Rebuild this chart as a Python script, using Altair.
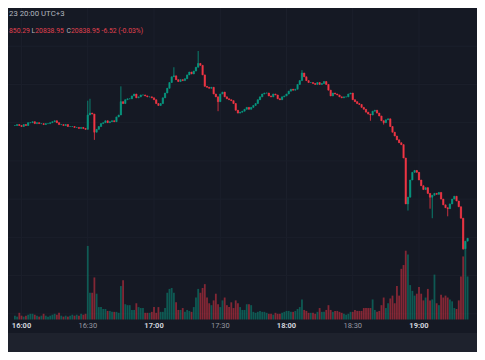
import altair as alt
import pandas as pd

# ---- data (1-minute candles, minute 0 = 16:00) ----
minutes = list(range(-3, 203))
first_open = 20937
close = [
    20937, 20938, 20937, 20936, 20938, 20937, 20940, 20940, 20941, 20939,
    20940, 20939, 20939, 20938, 20939, 20939, 20940, 20941, 20942, 20940,
    20938, 20938, 20937, 20938, 20936, 20936, 20936, 20935, 20935, 20934,
    20935, 20934, 20933, 20948, 20950, 20949, 20930, 20933, 20936, 20939,
    20940, 20942, 20940, 20941, 20942, 20941, 20946, 20948, 20962, 20960,
    20964, 20965, 20965, 20968, 20970, 20966, 20967, 20969, 20969, 20968,
    20967, 20967, 20966, 20964, 20960, 20958, 20960, 20966, 20971, 20976,
    20982, 20988, 20989, 20985, 20983, 20985, 20984, 20986, 20990, 20993,
    20991, 20994, 20998, 21002, 21000, 20990, 20978, 20977, 20976, 20977,
    20970, 20967, 20962, 20970, 20972, 20967, 20965, 20964, 20963, 20960,
    20953, 20950, 20951, 20952, 20954, 20956, 20954, 20956, 20958, 20960,
    20964, 20967, 20970, 20971, 20971, 20968, 20967, 20970, 20969, 20965,
    20964, 20967, 20968, 20970, 20973, 20975, 20974, 20975, 20980, 20984,
    20992, 20988, 20984, 20982, 20982, 20981, 20980, 20982, 20980, 20981,
    20983, 20980, 20974, 20968, 20971, 20970, 20969, 20967, 20966, 20967,
    20967, 20970, 20971, 20964, 20962, 20960, 20959, 20956, 20954, 20951,
    20949, 20948, 20952, 20953, 20950, 20947, 20942, 20940, 20943, 20944,
    20936, 20930, 20926, 20922, 20919, 20917, 20903, 20855, 20862, 20880,
    20888, 20890, 20888, 20880, 20874, 20870, 20872, 20866, 20862, 20864,
    20866, 20865, 20867, 20860, 20854, 20851, 20850, 20855, 20860, 20863,
    20858, 20852, 20840, 20808, 20816, 20819,
]
volume = [
    40, 30, 70, 40, 30, 40, 50, 60, 60, 50,
    40, 30, 40, 60, 40, 30, 40, 50, 60, 50,
    70, 40, 30, 40, 30, 40, 50, 40, 50, 40,
    60, 50, 60, 770, 280, 280, 440, 270, 130, 130,
    110, 110, 90, 90, 80, 80, 80, 70, 350, 410,
    160, 150, 150, 100, 100, 170, 130, 120, 120, 70,
    70, 70, 80, 130, 70, 130, 80, 80, 120, 280,
    320, 330, 280, 180, 100, 100, 120, 80, 100, 90,
    80, 130, 230, 320, 280, 330, 370, 230, 170, 150,
    200, 270, 160, 130, 200, 230, 150, 130, 180, 120,
    200, 170, 130, 100, 100, 160, 160, 150, 80, 70,
    80, 90, 80, 80, 70, 60, 60, 50, 70, 60,
    60, 70, 80, 90, 90, 80, 80, 90, 110, 130,
    210, 100, 90, 70, 70, 70, 60, 80, 120, 80,
    80, 100, 150, 100, 80, 90, 90, 80, 70, 60,
    50, 60, 80, 80, 100, 90, 90, 90, 120, 120,
    120, 120, 210, 100, 80, 90, 150, 230, 120, 170,
    220, 250, 170, 350, 250, 530, 570, 720, 680, 360,
    300, 250, 270, 340, 270, 200, 230, 320, 200, 210,
    470, 170, 150, 260, 230, 250, 230, 210, 190, 120,
    110, 200, 450, 660, 820, 450,
]
high_minutes = [30, 31, 45, 69, 80, 127]
high_values = [20963, 20965, 20978, 20998, 21015, 20995]
low_minutes = [33, 89, 158, 164, 175, 185, 186, 193, 200]
low_values = [20922, 20952, 20942, 20938, 20848, 20850, 20840, 20842, 20807]

tick_minutes = [0, 30, 60, 90, 120, 150, 180]
tick_labels = ["16:00", "16:30", "17:00", "17:30", "18:00", "18:30", "19:00"]
grid_prices = [21020, 20980, 20940, 20900, 20860, 20820, 20780, 20740]

# ---- table ----
opens = [first_open] + close[:-1]
hi_map = dict(zip(high_minutes, high_values))
lo_map = dict(zip(low_minutes, low_values))
rows = []
for m, o, c, v in zip(minutes, opens, close, volume):
    top, bot = max(o, c), min(o, c)
    rows.append(dict(m=m, open=o, close=c,
                     high=max(top, hi_map.get(m, top)),
                     low=min(bot, lo_map.get(m, bot)),
                     volume=v, dir="up" if c >= o else "down"))
df = pd.DataFrame(rows)
ticks = pd.DataFrame({"m": tick_minutes, "label": tick_labels})
hours = ticks[ticks["label"].str.endswith(":00")]
halves = ticks[ticks["label"].str.endswith(":30")]
grid = pd.DataFrame({"price": grid_prices})
one = pd.DataFrame({"k": [0]})

W, H = 469, 344
BG = "#151924"
GRID = "#1b1f2b"
UP, DOWN = "#089981", "#f23645"

xs = alt.Scale(domain=[-3.857, 204], nice=False, zero=False)
ps = alt.Scale(domain=[20700, 21060], nice=False, zero=False)
X = alt.X("m:Q", scale=xs, axis=None)
cscale = alt.Scale(domain=["up", "down"], range=[UP, DOWN])
col = alt.Color("dir:N", scale=cscale, legend=None)
stk = alt.Stroke("dir:N", scale=cscale, legend=None)

band = alt.Chart(one).mark_rect(color="#1e222d").encode(
    x=alt.value(0), x2=alt.value(W), y=alt.value(325), y2=alt.value(H))
vgrid = alt.Chart(ticks).mark_rule(color=GRID, strokeWidth=1).encode(
    x=X, y=alt.value(0), y2=alt.value(311.5))
hgrid = alt.Chart(grid).mark_rule(color=GRID, strokeWidth=1).encode(
    y=alt.Y("price:Q", scale=ps, axis=None), x=alt.value(0), x2=alt.value(W))
vol = alt.Chart(df).mark_bar(size=1.8, opacity=0.5).encode(
    x=X,
    y=alt.Y("volume:Q", scale=alt.Scale(domain=[0, 3260], range=[311.5, 0], nice=False), axis=None),
    color=col)
wick = alt.Chart(df).mark_rule(strokeWidth=0.8).encode(
    x=X, y=alt.Y("low:Q", scale=ps, axis=None), y2="high:Q", color=col)
body = alt.Chart(df).mark_bar(size=1.3, strokeWidth=0.6).encode(
    x=X, y=alt.Y("open:Q", scale=ps, axis=None), y2="close:Q", color=col, stroke=stk)

lab_h = alt.Chart(hours).mark_text(font="Roboto", fontSize=7.5, fontWeight="bold",
                                   color="#d1d4dc", baseline="middle").encode(
    x=X, y=alt.value(318), text="label:N")
lab_m = alt.Chart(halves).mark_text(font="Roboto", fontSize=7.5, color="#9598a1",
                                    baseline="middle").encode(
    x=X, y=alt.value(318), text="label:N")

def hdr(txt, x, y, color, size, align="left"):
    return alt.Chart(one).mark_text(font="Roboto", fontSize=size, color=color,
                                    align=align, baseline="middle").encode(
        x=alt.value(x), y=alt.value(y), text=alt.value(txt))

RED_T = "#e0414f"
GREY_T = "#b2b5be"
head = [
    hdr("23 20:00 UTC+3", 1, 6.2, GREY_T, 7.8),
    hdr("850.29", 1, 23, RED_T, 6.8),
    hdr("L", 23.5, 23, GREY_T, 6.8),
    hdr("20838.95", 27.3, 23, RED_T, 6.8),
    hdr("C", 58.5, 23, GREY_T, 6.8),
    hdr("20838.95", 63.0, 23, RED_T, 6.8),
    hdr("-6.52 (-0.03%)", 93.5, 23, RED_T, 6.8),
]

chart = alt.layer(band, vgrid, hgrid, vol, wick, body, lab_h, lab_m, *head).resolve_scale(
    y="independent"
).properties(
    width=W, height=H, padding=0, autosize=alt.AutoSizeParams(type="none"),
    background=BG,
).configure_view(strokeWidth=0)

chart.save("out.html", embed_options={"renderer": "svg", "actions": False})
